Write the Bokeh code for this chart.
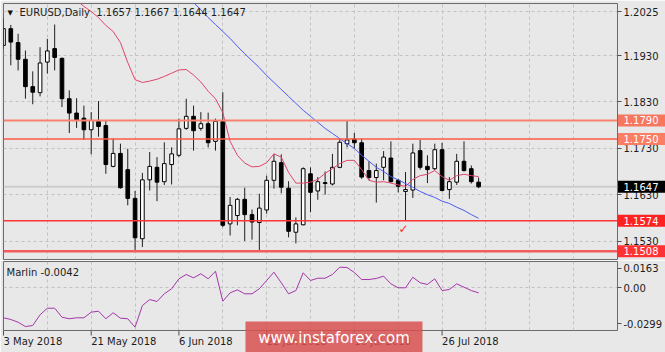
from bokeh.plotting import figure
from bokeh.layouts import column
from bokeh.models import Range1d, FixedTicker, Span, Label, ColumnDataSource
from bokeh.core.properties import value
from bokeh.embed import file_html
from bokeh.resources import INLINE

NaN = float("nan")

# ---------------- data ----------------
opens = [1.1952, 1.1988, 1.1958, 1.1922, 1.1863, 1.1850, 1.1916, 1.1945, 1.1924, 1.1837,
         1.1806, 1.1795, 1.1770, 1.1788, 1.1779, 1.1691, 1.1719, 1.1684, 1.1622, 1.1535,
         1.1662, 1.1689, 1.1658, 1.1695, 1.1715, 1.1773, 1.1799, 1.1773, 1.1783, 1.1745,
         1.1788, 1.1567, 1.1585, 1.1620, 1.1587, 1.1570, 1.1597, 1.1661, 1.1699, 1.1644,
         1.1549, 1.1565, 1.1675, 1.1638, 1.1656, 1.1653, 1.1689, 1.1740, 1.1750, 1.1742,
         1.1682, 1.1667, 1.1689, 1.1709, 1.1661, 1.1637, 1.1640, 1.1725, 1.1691, 1.1686,
         1.1727, 1.1641, 1.1657, 1.1702, 1.1686, 1.1657]
highs = [1.2010, 1.1996, 1.1977, 1.1941, 1.1896, 1.1948, 1.1966, 1.1997, 1.1926, 1.1855,
         1.1838, 1.1822, 1.1808, 1.1832, 1.1790, 1.1751, 1.1740, 1.1729, 1.1638, 1.1677,
         1.1722, 1.1711, 1.1743, 1.1732, 1.1794, 1.1837, 1.1822, 1.1808, 1.1807, 1.1794,
         1.1851, 1.1625, 1.1623, 1.1645, 1.1598, 1.1632, 1.1671, 1.1718, 1.1717, 1.1659,
         1.1581, 1.1689, 1.1689, 1.1668, 1.1680, 1.1718, 1.1751, 1.1790, 1.1763, 1.1751,
         1.1702, 1.1697, 1.1724, 1.1745, 1.1664, 1.1679, 1.1740, 1.1748, 1.1715, 1.1740,
         1.1742, 1.1668, 1.1718, 1.1745, 1.1693, 1.1667]
lows = [1.1945, 1.1909, 1.1898, 1.1837, 1.1825, 1.1842, 1.1891, 1.1898, 1.1819, 1.1763,
        1.1774, 1.1748, 1.1717, 1.1755, 1.1675, 1.1689, 1.1643, 1.1607, 1.1508, 1.1517,
        1.1639, 1.1616, 1.1651, 1.1652, 1.1711, 1.1770, 1.1725, 1.1768, 1.1732, 1.1725,
        1.1560, 1.1542, 1.1564, 1.1530, 1.1533, 1.1508, 1.1589, 1.1643, 1.1633, 1.1538,
        1.1525, 1.1564, 1.1592, 1.1619, 1.1630, 1.1650, 1.1687, 1.1732, 1.1729, 1.1664,
        1.1661, 1.1613, 1.1661, 1.1656, 1.1635, 1.1574, 1.1623, 1.1684, 1.1655, 1.1683,
        1.1637, 1.1621, 1.1651, 1.1680, 1.1654, 1.1644]
closes = [1.1988, 1.1959, 1.1922, 1.1863, 1.1851, 1.1914, 1.1940, 1.1926, 1.1837, 1.1806,
          1.1790, 1.1770, 1.1790, 1.1777, 1.1695, 1.1719, 1.1645, 1.1622, 1.1537, 1.1662,
          1.1691, 1.1657, 1.1697, 1.1718, 1.1772, 1.1799, 1.1768, 1.1783, 1.1742, 1.1788,
          1.1564, 1.1607, 1.1620, 1.1587, 1.1571, 1.1601, 1.1661, 1.1702, 1.1646, 1.1551,
          1.1567, 1.1686, 1.1635, 1.1658, 1.1654, 1.1689, 1.1743, 1.1748, 1.1742, 1.1668,
          1.1667, 1.1682, 1.1711, 1.1658, 1.1648, 1.1641, 1.1720, 1.1689, 1.1684, 1.1727,
          1.1639, 1.1658, 1.1702, 1.1682, 1.1658, 1.1647]

ma_red = [NaN] * 9 + [
    1.2064, 1.2049, 1.2036, 1.2025, 1.2012, 1.1995, 1.1982, 1.1958, 1.1915, 1.1878,
    1.1872, 1.1875, 1.1879, 1.1885, 1.1892, 1.1899, 1.1900, 1.1888, 1.1873, 1.1853,
    1.1837, 1.1807, 1.1745, 1.1715, 1.1698, 1.1690, 1.1691, 1.1699, 1.1718, 1.1711,
    1.1678, 1.1655, 1.1655, 1.1657, 1.1663, 1.1676, 1.1686, 1.1697, 1.1704, 1.1704,
    1.1684, 1.1661, 1.1657, 1.1658, 1.1655, 1.1651, 1.1648, 1.1663, 1.1671, 1.1674,
    1.1682, 1.1669, 1.1661, 1.1671, 1.1674, 1.1671, 1.1669]
ma_blue = [NaN] * 25 + [
    1.2060, 1.2044, 1.2029, 1.2012, 1.1997, 1.1982, 1.1967, 1.1950, 1.1934, 1.1919,
    1.1904, 1.1887, 1.1872, 1.1857, 1.1842, 1.1827, 1.1812, 1.1799, 1.1786, 1.1773,
    1.1762, 1.1751, 1.1740, 1.1730, 1.1715, 1.1702, 1.1689, 1.1680, 1.1669, 1.1662,
    1.1654, 1.1646, 1.1637, 1.1630, 1.1624, 1.1616, 1.1611, 1.1603, 1.1596, 1.1587,
    1.1579]
marlin = [-0.0250, -0.0264, -0.0287, -0.0323, -0.0314, -0.0225, -0.0170, -0.0170, -0.0245, -0.0258,
          -0.0250, -0.0250, -0.0203, -0.0195, -0.0258, -0.0208, -0.0253, -0.0258, -0.0328, -0.0148,
          -0.0098, -0.0114, -0.0050, -0.0008, 0.0075, 0.0111, 0.0083, 0.0117, 0.0075, 0.0138,
          -0.0112, -0.0042, -0.0017, -0.0050, -0.0050, -0.0008, 0.0061, 0.0130, 0.0042, -0.0050,
          -0.0023, 0.0125, 0.0061, 0.0080, 0.0080, 0.0111, 0.0172, 0.0169, 0.0128, 0.0069,
          0.0069, 0.0078, 0.0097, 0.0033, 0.0000, 0.0000, 0.0088, 0.0042, 0.0028, 0.0075,
          -0.0023, -0.0014, 0.0033, 0.0005, -0.0023, -0.0042]

levels = [1.1790, 1.1750, 1.1574, 1.1508]
level_labels = ["1.1790", "1.1750", "1.1574", "1.1508"]
last_price = 1.1647
last_label = "1.1647"
marked_bar = 55

price_ticks = [1.2025, 1.1930, 1.1830, 1.1730, 1.1630, 1.1530]
price_tick_labels = ["1.2025", "1.1930", "1.1830", "1.1730", "1.1630", "1.1530"]
date_tick_bars = [0, 12, 24, 36, 48, 60]
date_tick_labels = ["3 May 2018", "21 May 2018", "6 Jun 2018", "22 Jun 2018", "10 Jul 2018", "26 Jul 2018"]
grid_bars = [6, 12, 18, 24, 30, 36, 42, 48, 54, 60, 66, 72, 78]
marlin_ticks = [0.0163, 0.0, -0.0299]
marlin_tick_labels = ["0.0163", "0.00", "-0.0299"]

header = "EURUSD,Daily\u00a0\u00a01.1657 1.1667 1.1644 1.1647"
marlin_title = "Marlin -0.0042"
watermark = "www.instaforex.com"

# ---------------- layout / style constants ----------------
BG = "#e8e8e8"
FONT = "DejaVu Sans"
TXT = "#1c1c1c"
FRAME = "#6a6a6a"
GRID = "#c2c2c2"
PX_BAR = 7.31                       # pixels per bar
X_END = 84.0                        # bars across the 614 px frame
Y0, Y1 = 1.14902, 1.20423           # price range of the 256 px frame
PX_PRICE = 256 / (Y1 - Y0)          # pixels per price unit
M0, M1 = -0.03558, 0.02192          # marlin range of the 69 px frame
PX_M = 69 / (M1 - M0)
label_half_px = [29.4, 32.6, 26.9, 30.1, 28.3, 28.3]   # half width of date labels
level_line_colors = ["#f8826e", "#ff5a46", "#ff3434", "#f25c5c"]
level_line_widths = [2, 1.5, 1.5, 2.5]
level_box_colors = ["#f7765f", "#fb7d64", "#ff2222", "#ff3333"]


def style_axis(ax):
    ax.axis_line_color = None
    ax.major_tick_line_color = "#505050"
    ax.major_tick_in = 0
    ax.minor_tick_line_color = None
    ax.major_label_text_font = FONT
    ax.major_label_text_font_size = "10px"
    ax.major_label_text_color = TXT


n = len(opens)
idx = list(range(n))

# ---------------- main price panel ----------------
p = figure(frame_width=614, frame_height=256,
           x_range=Range1d(0, X_END), y_range=Range1d(Y0, Y1),
           x_axis_location=None, y_axis_location="right",
           output_backend="svg", toolbar_location=None,
           min_border_left=3, min_border_right=48, min_border_top=3, min_border_bottom=1,
           background_fill_color=BG, border_fill_color=BG,
           outline_line_color=FRAME, outline_line_width=1)

ya = p.yaxis[0]
style_axis(ya)
ya.ticker = FixedTicker(ticks=price_ticks)
ya.major_label_overrides = {t: s for t, s in zip(price_ticks, price_tick_labels)}
ya.major_tick_out = 4
ya.major_label_standoff = 2

p.ygrid.ticker = FixedTicker(ticks=price_ticks)
p.xgrid.ticker = FixedTicker(ticks=grid_bars)
for g in (p.xgrid, p.ygrid):
    g.grid_line_color = GRID
    g.grid_line_dash = "3 3"
    g.grid_line_width = 1

p.add_layout(Span(location=last_price, dimension="width", line_color="#cdcdcd",
                  line_width=2, level="underlay"))

src = ColumnDataSource(dict(
    x=idx, high=highs, low=lows,
    top=[max(o, c) for o, c in zip(opens, closes)],
    bottom=[min(o, c) for o, c in zip(opens, closes)],
    fill=["white" if c >= o else "black" for o, c in zip(opens, closes)],
))
p.segment(x0="x", y0="low", x1="x", y1="high", source=src, line_color="#1e1e1e", line_width=1)
p.vbar(x="x", width=0.5, top="top", bottom="bottom", fill_color="fill",
       line_color="black", line_width=1, source=src)

p.line(idx, ma_red, line_color="#e0456a", line_width=1)
p.line(idx, ma_blue, line_color="#4b5cf2", line_width=1)

for lv, lc, lw in zip(levels, level_line_colors, level_line_widths):
    p.add_layout(Span(location=lv, dimension="width", line_color=lc, line_width=lw))

# price boxes on the right scale (drawn above the axis, outside the frame)
box_vals = levels + [last_price]
box_texts = level_labels + [last_label]
box_cols = level_box_colors + ["#000000"]
half_h = 6.0 / PX_PRICE
bsrc = ColumnDataSource(dict(
    y=box_vals, top=[v + half_h for v in box_vals], bottom=[v - half_h for v in box_vals],
    text=box_texts, color=box_cols,
))
p.quad(left=X_END + 0.5 / PX_BAR, right=X_END + 60 / PX_BAR, top="top", bottom="bottom",
       fill_color="color", line_color=None, source=bsrc, level="overlay")
p.text(x=X_END + 6 / PX_BAR, y="y", text="text", source=bsrc, text_color="white",
       text_font=value(FONT), text_font_size="10px", text_align="left",
       text_baseline="middle", level="overlay")

p.add_layout(Label(x=0, y=Y1, x_offset=4, y_offset=-5, text="\u25bc", text_align="left",
                   text_baseline="top", text_color="#111111", text_font=FONT, text_font_size="7px"))
p.add_layout(Label(x=0, y=Y1, x_offset=16, y_offset=-8.5, text=header, text_align="left",
                   text_baseline="middle", text_color=TXT, text_font=FONT, text_font_size="10px"))

p.add_layout(Label(x=marked_bar, y=lows[marked_bar], x_offset=-2, y_offset=-1, text="\u2713",
                   text_align="center", text_baseline="top", text_color="#ff2a2a",
                   text_font=FONT, text_font_size="12px"))

# ---------------- Marlin oscillator panel ----------------
p2 = figure(frame_width=614, frame_height=69,
            x_range=p.x_range, y_range=Range1d(M0, M1),
            y_axis_location="right",
            output_backend="svg", toolbar_location=None,
            min_border_left=3, min_border_right=48, min_border_top=1, min_border_bottom=22,
            background_fill_color=BG, border_fill_color=BG,
            outline_line_color=FRAME, outline_line_width=1)

ya2 = p2.yaxis[0]
style_axis(ya2)
ya2.ticker = FixedTicker(ticks=marlin_ticks)
ya2.major_label_overrides = {t: s for t, s in zip(marlin_ticks, marlin_tick_labels)}
ya2.major_tick_out = 4
ya2.major_label_standoff = 2

# date labels start at their bar (MT4 style): axis ticks placed at label centres
label_pos = [b + hw / PX_BAR for b, hw in zip(date_tick_bars, label_half_px)]
xa2 = p2.xaxis[0]
style_axis(xa2)
xa2.ticker = FixedTicker(ticks=label_pos)
xa2.major_label_overrides = {t: s for t, s in zip(label_pos, date_tick_labels)}
xa2.major_tick_line_color = None
xa2.major_tick_out = 0
xa2.major_label_standoff = 5

p2.segment(x0=date_tick_bars, x1=date_tick_bars, y0=[M0] * len(date_tick_bars),
           y1=[M0 - 5 / PX_M] * len(date_tick_bars), line_color="#505050",
           line_width=1, level="overlay")

p2.xgrid.ticker = FixedTicker(ticks=grid_bars)
p2.ygrid.ticker = FixedTicker(ticks=[0.0])
for g in (p2.xgrid, p2.ygrid):
    g.grid_line_color = GRID
    g.grid_line_dash = "3 3"
    g.grid_line_width = 1

p2.line(idx, marlin, line_color="#a336a8", line_width=1)

p2.add_layout(Label(x=0, y=M1, x_offset=3, y_offset=-10.5, text=marlin_title,
                    text_align="left", text_baseline="middle", text_color=TXT,
                    text_font=FONT, text_font_size="10px"))

# watermark banner (over the bottom of the panel and the date scale)
wm_left = 242 / PX_BAR
wm_right = 419 / PX_BAR
wm_top = M0 + 9 / PX_M
wm_bottom = M0 - 30 / PX_M
p2.quad(left=wm_left, right=wm_right, top=wm_top, bottom=wm_bottom,
        fill_color="#d95050", fill_alpha=0.85, line_color=None, level="overlay")
p2.text(x=(wm_left + wm_right) / 2, y=M0 - 7 / PX_M, text=[watermark], text_color="white",
        text_font=value(FONT), text_font_size="15px", text_align="center",
        text_baseline="middle", level="overlay")

layout = column(p, p2, spacing=0)
open("out.html", "w").write(file_html(layout, INLINE))
